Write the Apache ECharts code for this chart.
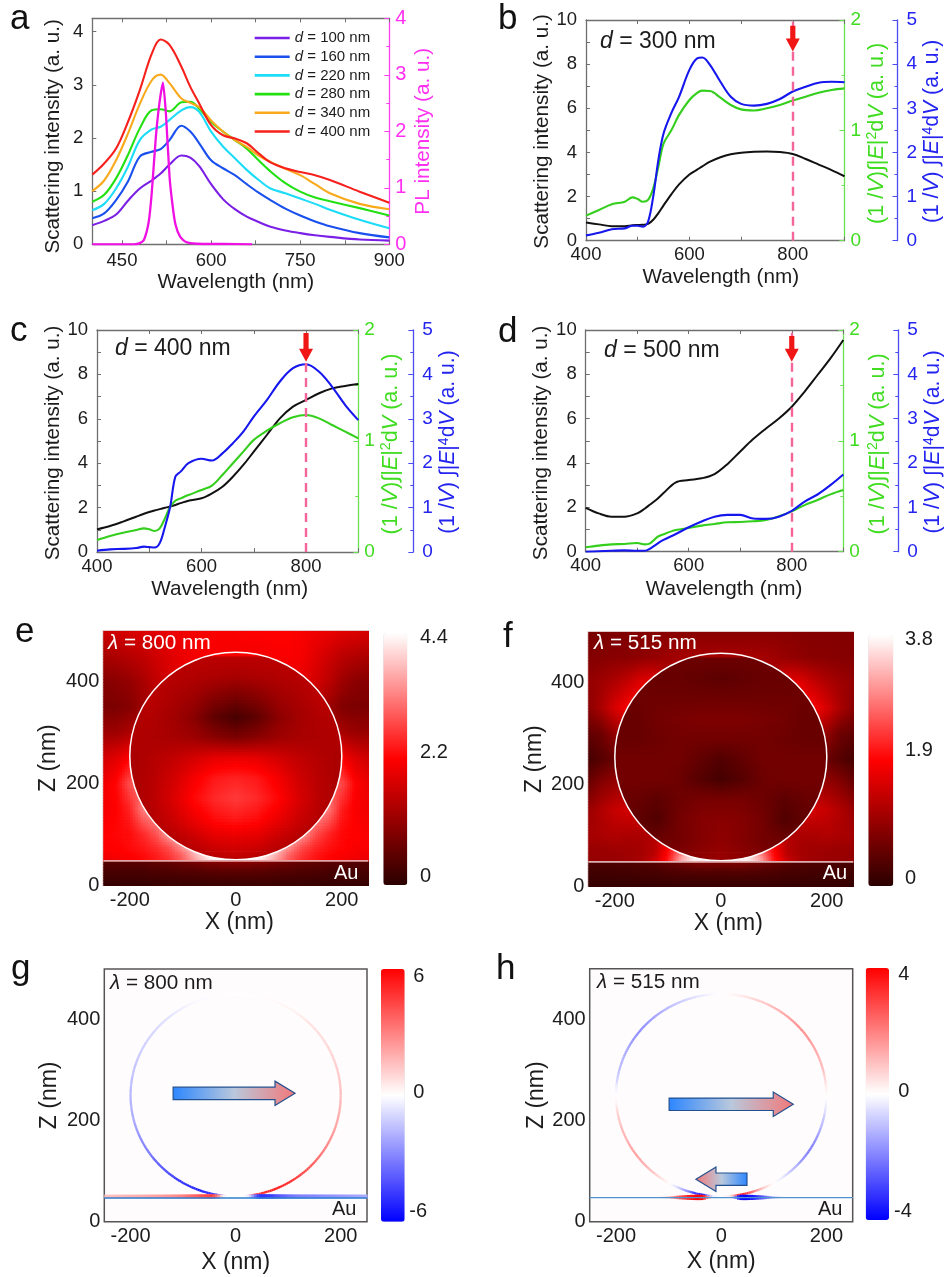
<!DOCTYPE html>
<html><head><meta charset="utf-8">
<script src="https://cdn.jsdelivr.net/npm/echarts@6/dist/echarts.min.js"></script>
<style>html,body{margin:0;padding:0;background:#fff}#c{width:945px;height:1277px}</style>
</head><body><div id="c"></div>
<script>
// ---------- panel a ----------
const waveA = [400,420,440,460,480,500,515,530,550,565,580,600,620,640,660,680,700,725,750,775,800,850,900];
const d100 = [.36,.44,.56,.82,1.05,1.2,1.33,1.5,1.67,1.63,1.47,1.13,.85,.66,.52,.42,.33,.26,.21,.17,.14,.09,.07];
const d160 = [.49,.58,.83,1.18,1.65,1.74,1.79,1.96,2.23,2.12,1.9,1.58,1.43,1.3,1.13,.97,.83,.67,.54,.43,.34,.21,.13];
const d220 = [.64,.76,1.05,1.46,1.96,2.16,2.21,2.34,2.52,2.58,2.49,2.12,1.84,1.62,1.4,1.21,1.05,.96,.86,.76,.65,.46,.3];
const d280 = [.8,.93,1.24,1.68,2.18,2.52,2.54,2.5,2.67,2.68,2.55,2.3,2.12,1.96,1.8,1.58,1.37,1.15,.99,.88,.81,.68,.54];
const d340 = [1.0,1.2,1.58,2.08,2.64,3.08,3.19,3.03,2.74,2.66,2.58,2.33,2.12,1.96,1.83,1.67,1.55,1.42,1.3,1.13,.96,.76,.66];
const d400 = [1.31,1.52,1.8,2.3,2.9,3.58,3.85,3.75,3.34,2.96,2.65,2.24,2.05,1.99,1.9,1.71,1.54,1.43,1.36,1.3,1.21,.99,.78];
const waveAPL = [400,470,480,487,495,500,507,513,519,524,530,535,540,548,558,575,620,669];
const plIntensity = [0,0,.02,.08,.4,.9,1.9,2.5,2.86,2.3,1.2,.7,.35,.13,.04,.01,.005,0];
const legendNames = ['d = 100 nm','d = 160 nm','d = 220 nm','d = 280 nm','d = 340 nm','d = 400 nm'];
// ---------- panel b ----------
const waveB = [400,425,450,475,490,500,510,520,530,540,550,565,580,600,615,625,640,660,680,700,725,750,775,800,825,850,875,900];
const bScatter = [.82,.74,.66,.66,.7,.71,.72,.76,.95,1.25,1.6,2.1,2.55,3.0,3.22,3.37,3.58,3.78,3.92,3.99,4.03,4.04,4.02,3.93,3.7,3.45,3.2,2.92];
const bE2 = [.227,.278,.33,.353,.393,.378,.353,.369,.474,.67,.88,1.0,1.14,1.275,1.34,1.36,1.357,1.296,1.23,1.19,1.18,1.2,1.23,1.27,1.305,1.34,1.365,1.38];
const bE4 = [.12,.18,.26,.28,.34,.34,.32,.43,1.0,1.83,2.43,2.89,3.26,3.87,4.13,4.15,3.98,3.6,3.26,3.1,3.06,3.1,3.21,3.38,3.49,3.58,3.6,3.59];
// ---------- panel c ----------
const waveC = [400,425,450,475,490,500,510,520,530,540,550,560,575,600,620,640,660,680,700,725,750,775,800,825,850,875,900];
const cScatter = [1.02,1.17,1.37,1.59,1.72,1.8,1.87,1.93,1.99,2.05,2.12,2.2,2.31,2.42,2.64,2.94,3.39,3.92,4.52,5.27,6.02,6.55,6.85,7.15,7.37,7.48,7.57];
const cE2 = [.108,.144,.174,.198,.213,.204,.189,.213,.303,.408,.462,.483,.513,.558,.598,.694,.8,.904,1.01,1.093,1.16,1.213,1.234,1.204,1.144,1.084,1.024];
const cE4 = [.03,.06,.07,.09,.12,.11,.1,.2,.57,1.02,1.7,1.81,2.0,2.1,2.06,2.22,2.45,2.71,3.05,3.42,3.84,4.14,4.23,4.06,3.72,3.31,2.97];
// ---------- panel d ----------
const waveD = [400,425,450,475,500,515,525,540,550,575,600,625,650,675,700,725,750,775,800,825,850,875,900];
const dScatter = [1.98,1.73,1.58,1.58,1.73,1.95,2.13,2.4,2.62,3.13,3.23,3.31,3.5,3.95,4.52,5.08,5.56,6.01,6.54,7.22,7.97,8.72,9.55];
const dE2 = [.04,.055,.066,.07,.078,.066,.075,.135,.156,.195,.214,.235,.25,.265,.268,.274,.286,.32,.364,.42,.466,.517,.556];
const dE4 = [0,.01,.02,.03,.02,.02,.07,.19,.26,.4,.55,.68,.79,.83,.83,.75,.74,.79,.92,1.13,1.29,1.5,1.74];
// ---------- tick labels ----------
const ticksAx = [450,600,750,900], ticksAxMinor = [450,525,600,675,750,825,900];
const ticksBx = [400,600,800], ticksBxMinor = [400,500,600,700,800,900];
const ticksXnm = [-200,0,200], ticksZnm = [0,200,400];
// ---------- field maps: |E| outside the sphere (rows top to bottom) ----------
const fieldX = [-250,-225,-200,-175,-150,-125,-100,-75,-50,-25,0,25,50,75,100,125,150,175,200,225,250];
const fieldZ = [500,450,400,350,300,250,200,150,100,75,60,48,47,25,0];
const outerE = [
[1.7,1.75,1.8,1.85,1.9,2.0,2.05,2.1,2.15,2.15,2.15,2.2,2.2,2.2,2.2,2.15,2.05,2.0,1.9,1.85,1.8],
[1.3,1.35,1.45,1.55,1.7,1.85,2.0,2.1,2.15,2.1,2.1,2.1,2.1,2.15,2.15,2.1,1.9,1.7,1.5,1.4,1.35],
[.95,1.0,1.1,1.3,1.55,1.8,1.95,2,2,2,2,2,2,2,2,1.95,1.75,1.5,1.2,1.0,.95],
[.85,.85,.95,1.2,1.4,1.5,1.6,1.6,1.6,1.6,1.6,1.6,1.6,1.6,1.6,1.5,1.4,1.2,.9,.85,.85],
[1.2,1.2,1.35,1.5,1.6,1.6,1.6,1.6,1.6,1.6,1.6,1.6,1.6,1.6,1.6,1.6,1.6,1.5,1.3,1.15,1.15],
[1.75,1.9,2.2,2.4,2.4,2.4,2.4,2.4,2.4,2.4,2.4,2.4,2.4,2.4,2.4,2.4,2.4,2.4,2.15,1.85,1.7],
[2.05,2.25,2.9,3.0,3.0,3.0,3.0,3.0,3.0,3.0,3.0,3.0,3.0,3.0,3.0,3.0,3.0,3.0,2.85,2.2,2.0],
[2.1,2.2,2.5,3.3,3.6,3.6,3.6,3.6,3.6,3.6,3.6,3.6,3.6,3.6,3.6,3.6,3.6,3.25,2.45,2.15,2.05],
[2.2,2.25,2.3,2.55,2.9,3.6,3.9,3.9,3.9,3.9,3.9,3.9,3.9,3.9,3.9,3.55,2.85,2.5,2.25,2.2,2.15],
[2.2,2.2,2.3,2.4,2.6,2.9,3.5,4.1,4.2,4.3,4.3,4.3,4.2,4.1,3.45,2.85,2.55,2.35,2.25,2.15,2.15],
[2.1,2.15,2.2,2.3,2.45,2.7,3.1,3.8,4.3,4.4,4.4,4.4,4.3,3.75,3.05,2.65,2.4,2.25,2.15,2.1,2.05],
[2.0,2.05,2.15,2.25,2.4,2.6,3.0,3.6,4.2,4.4,4.4,4.4,4.15,3.55,2.95,2.55,2.35,2.2,2.1,2.0,2.0],
[.45,.45,.5,.5,.55,.6,.7,.8,.9,.95,1.0,.95,.9,.8,.7,.6,.55,.5,.5,.45,.45],
[.3,.3,.3,.3,.35,.35,.4,.4,.45,.45,.45,.45,.45,.4,.4,.35,.35,.3,.3,.3,.3],
[.12,.12,.12,.12,.13,.14,.14,.15,.15,.15,.15,.15,.15,.15,.14,.14,.13,.12,.12,.12,.12]];
const outerF = [
[.7,.72,.75,.78,.8,.82,.85,.85,.85,.85,.85,.85,.85,.85,.85,.85,.82,.8,.8,.8,.8],
[.8,.82,.85,.85,.9,.95,1.05,1.1,1.1,1.1,1.1,1.1,1.1,1.1,1.05,.95,.9,.85,.85,.82,.8],
[.95,1.05,1.2,1.4,1.65,1.7,1.2,1.1,1.1,1.1,1.1,1.1,1.1,1.1,1.2,1.7,1.65,1.4,1.2,1.05,.95],
[.85,1.15,1.55,1.85,1.85,1.85,1.85,1.85,1.85,1.85,1.85,1.85,1.85,1.85,1.85,1.85,1.85,1.85,1.55,1.15,.85],
[.5,.6,.95,1.0,1.0,1.0,1.0,1.0,1.0,1.0,1.0,1.0,1.0,1.0,1.0,1.0,1.0,1.0,.95,.6,.5],
[.25,.4,.55,.55,.55,.55,.55,.55,.55,.55,.55,.55,.55,.55,.55,.55,.55,.55,.55,.4,.25],
[.6,.85,1.0,1.0,1.0,1.0,1.0,1.0,1.0,1.0,1.0,1.0,1.0,1.0,1.0,1.0,1.0,1.0,1.0,.85,.6],
[1.0,1.2,1.4,1.5,1.5,1.5,1.5,1.5,1.5,1.5,1.5,1.5,1.5,1.5,1.5,1.5,1.5,1.5,1.4,1.2,1.0],
[1.1,1.15,1.2,1.15,1.15,1.2,1.5,1.5,1.5,1.5,1.5,1.5,1.5,1.5,1.5,1.2,1.15,1.15,1.2,1.15,1.1],
[1.0,1.0,1.05,1.05,1.1,1.25,1.9,2.6,2.6,2.6,2.6,2.6,2.6,2.6,1.9,1.25,1.1,1.05,1.05,1.0,1.0],
[.95,1.0,1.0,1.05,1.1,1.3,2.0,3.0,3.7,3.7,3.0,3.7,3.7,3.0,2.0,1.3,1.1,1.05,1.0,1.0,.95],
[.95,1.0,1.0,1.05,1.15,1.5,2.1,3.2,3.7,3.5,2.6,3.5,3.7,3.2,2.1,1.5,1.15,1.05,1.0,1.0,.95],
[.3,.3,.32,.32,.35,.4,.5,.6,.7,.75,.7,.75,.7,.6,.5,.4,.35,.32,.32,.3,.3],
[.2,.2,.22,.22,.25,.25,.3,.3,.32,.32,.32,.32,.32,.3,.3,.25,.25,.22,.22,.2,.2],
[.1,.1,.1,.1,.1,.11,.12,.12,.12,.12,.12,.12,.12,.12,.12,.11,.1,.1,.1,.1,.1]];
// ---------- field maps: |E| inside the sphere ----------
const innerX = [-200,-160,-120,-80,-40,0,40,80,120,160,200];
const innerZ = [450,410,370,330,290,250,210,170,130,90,50];
const innerE = [
[1.5,1.5,1.5,1.5,1.5,1.5,1.5,1.5,1.5,1.5,1.5],
[1.5,1.5,1.45,1.4,1.35,1.3,1.35,1.4,1.45,1.5,1.5],
[1.5,1.5,1.35,1.2,.95,.8,.95,1.2,1.35,1.5,1.5],
[1.4,1.4,1.25,1.0,.55,.3,.55,1.0,1.25,1.4,1.4],
[1.4,1.35,1.3,1.2,1.0,.85,1.0,1.2,1.3,1.35,1.4],
[1.3,1.4,1.55,1.75,1.95,2.0,1.95,1.75,1.55,1.4,1.3],
[1.3,1.45,1.7,2.1,2.4,2.5,2.4,2.1,1.7,1.45,1.3],
[1.3,1.45,1.8,2.25,2.55,2.7,2.55,2.25,1.8,1.45,1.3],
[1.3,1.4,1.65,2.0,2.3,2.4,2.3,2.0,1.65,1.4,1.3],
[1.3,1.3,1.4,1.6,1.85,1.9,1.85,1.6,1.4,1.3,1.3],
[1.3,1.3,1.3,1.3,1.4,1.5,1.4,1.3,1.3,1.3,1.3]];
const innerF = [
[.6,.6,.6,.6,.6,.6,.6,.6,.6,.6,.6],
[.6,.6,.55,.55,.5,.45,.5,.55,.55,.6,.6],
[.6,.6,.6,.6,.6,.6,.6,.6,.6,.6,.6],
[.55,.55,.65,.7,.75,.75,.75,.7,.65,.55,.55],
[.55,.55,.6,.65,.65,.65,.65,.65,.6,.55,.55],
[.65,.65,.65,.65,.5,.35,.5,.65,.65,.65,.65],
[.65,.65,.65,.6,.4,.25,.4,.6,.65,.65,.65],
[.6,.55,.45,.6,.7,.7,.7,.6,.45,.55,.6],
[.5,.5,.35,.65,.8,.85,.8,.65,.35,.5,.5],
[.6,.6,.6,.65,.8,.9,.8,.65,.6,.6,.6],
[.7,.7,.7,.8,.9,1.0,.9,.8,.7,.7,.7]];
// ---------- surface charge on the sphere, one value every 5 degrees ----------
const ringAngle = [0,5,10,15,20,25,30,35,40,45,50,55,60,65,70,75,80,85,90,95,100,105,110,115,120,125,130,135,140,145,150,155,160,165,170,175,180,185,190,195,200,205,210,215,220,225,230,235,240,245,250,255,260,265,270,275,280,285,290,295,300,305,310,315,320,325,330,335,340,345,350,355];
const ringG = [1.5,1.4,1.3,1.2,1.1,1.0,.9,.8,.75,.7,.5,.35,.25,.2,.12,.08,.05,.02,0,-.02,-.05,-.08,-.12,-.2,-.35,-.55,-.7,-.8,-.9,-1,-1.1,-1.2,-1.3,-1.4,-1.5,-1.6,-1.7,-1.8,-1.9,-2.1,-2.3,-2.6,-2.9,-3.2,-3.6,-3.9,-4.3,-4.6,-4.9,-5.1,-5.2,-4.9,-4.1,-.3,0,.3,4.1,4.9,5.2,5.1,4.9,4.6,4.3,3.9,3.6,3.2,2.9,2.6,2.3,2.1,1.9,1.7];
const ringH = [.05,.3,.7,1,1.2,1.3,1.5,1.7,1.8,1.7,1.5,1.3,1.1,.9,.7,.5,.3,.1,0,-.1,-.3,-.5,-.7,-.9,-1.1,-1.3,-1.5,-1.7,-1.8,-1.7,-1.5,-1.4,-1.2,-1,-.8,-.3,0,.2,.7,.9,1.1,1.2,1.4,1.5,1.4,1.2,.9,.5,.1,-.5,-1.5,-3,-3.5,-.3,0,.3,3.5,2.8,1.6,.6,0,-.3,-.8,-1.2,-1.7,-2,-1.9,-1.6,-1.3,-1,-.6,-.2];
// ---------- surface charge on the Au film ----------
const stripX = [-250,-200,-150,-120,-100,-80,-60,-45,-35,-25,-15,0,15,25,35,45,60,80,100,120,150,200,250];
const stripG = [1.5,1.8,2.2,2.6,3,3.6,4.2,4.5,3,.5,0,0,0,-.5,-3,-4.8,-4.8,-4,-3.4,-3,-2.8,-2.4,-2];
const stripH = [0,0,0,.4,1.1,2.6,3.6,4,3.8,1.5,0,0,0,-1.5,-3.8,-4,-3.6,-2.6,-1.1,-.4,-.1,0,0];

const FONT = '"Liberation Sans", Arial, sans-serif';
const GRAY = '#6f6f6f', INK = '#1c1c1c';
const grids=[], xAxes=[], yAxes=[], series=[], visualMaps=[], graphics=[];
const NONE = {show:false};

function richFor(size,color){return {
  i:{fontStyle:'italic',fontSize:size,color,fontFamily:FONT},
  sup:{fontSize:size*0.66,color,fontFamily:FONT,padding:[0,0,size*0.42,0]}};}
function pairs(xs,ys){return xs.map((x,i)=>[x,ys[i]]);}
function addText(text,left,cy,size,color,extra){
  graphics.push(Object.assign({type:'text',left,top:cy-size*0.58,silent:true,z:50,
    style:{text,fill:color,fontSize:size,fontFamily:FONT,rich:richFor(size,color)}},extra||{}));
}
function mapColor(stops,lo,hi){
  const c=stops.map(s=>[parseInt(s.slice(1,3),16),parseInt(s.slice(3,5),16),parseInt(s.slice(5,7),16)]);
  return v=>{
    let t=(v-lo)/(hi-lo); t=Math.max(0,Math.min(1,t))*(c.length-1);
    const i=Math.min(c.length-2,Math.floor(t)), f=t-i;
    return 'rgb('+[0,1,2].map(k=>Math.round(c[i][k]+(c[i+1][k]-c[i][k])*f)).join(',')+')';
  };
}
function frameAxisX(g,mn,mx,labels,ticks,color,margin,name,gap,shift,size){
  const pad = shift>0?[0,0,0,2*shift]:[0,-2*shift,0,0];
  xAxes.push({gridIndex:g,type:'value',position:'bottom',min:mn,max:mx,splitLine:NONE,
    axisLine:{show:true,onZero:false,lineStyle:{color,width:1.3}},
    axisTick:{show:!!ticks,inside:true,length:4,lineStyle:{color},customValues:ticks||labels},
    axisLabel:{color:INK,fontSize:size,fontFamily:FONT,margin,customValues:labels,hideOverlap:false},
    name,nameLocation:'middle',nameGap:gap,
    nameTextStyle:{color:INK,fontSize:name==='X (nm)'?23:20.7,fontFamily:FONT,padding:pad}});
  return xAxes.length-1;
}

// ------- wavelength panels --------
function basePanel(box,xTicks,xMinor,xMargin,xGap,xShift,yMax,yTicks,yGap,yShift,yMinor){
  grids.push({left:box[0],top:box[1],width:box[2]-box[0],height:box[3]-box[1]});
  const g=grids.length-1;
  const xi=frameAxisX(g,400,900,xTicks,xMinor,GRAY,xMargin,'Wavelength (nm)',xGap,xShift,18.5);
  xAxes.push({gridIndex:g,type:'value',position:'top',min:400,max:900,splitLine:NONE,
    axisLine:{show:true,onZero:false,lineStyle:{color:GRAY,width:1.3}},axisLabel:NONE,
    axisTick:{show:true,inside:true,length:4,lineStyle:{color:GRAY},customValues:xMinor}});
  const yi=yAxes.length;
  yAxes.push({gridIndex:g,type:'value',position:'left',min:0,max:yMax,splitLine:NONE,
    axisLine:{show:true,onZero:false,lineStyle:{color:GRAY,width:1.3}},
    axisTick:{show:true,inside:true,length:4,lineStyle:{color:GRAY},customValues:yMinor},
    axisLabel:{color:INK,fontSize:18.5,fontFamily:FONT,margin:9,customValues:yTicks},
    name:'Scattering intensity (a. u.)',nameLocation:'middle',nameGap:yGap,
    nameTextStyle:{color:INK,fontSize:20.7,fontFamily:FONT,padding:yShift>0?[0,2*yShift,0,0]:[0,0,0,-2*yShift]}});
  return {g,xi,yi};
}
function rightAxis(g,mx,major,lineColor,textColor,offset,name,gap,shift,margin,labelSize,nameSize){
  yAxes.push({gridIndex:g,type:'value',position:'right',offset,min:0,max:mx,interval:major,splitLine:NONE,
    axisLine:{show:true,onZero:false,lineStyle:{color:lineColor,width:1.3}},
    axisTick:{show:true,inside:true,length:5,lineStyle:{color:lineColor}},
    minorTick:{show:true,splitNumber:2,length:3,lineStyle:{color:lineColor}},
    axisLabel:{color:textColor,fontSize:labelSize,fontFamily:FONT,margin},
    name,nameLocation:'middle',nameGap:gap,nameRotate:90,
    nameTextStyle:{color:textColor,fontSize:nameSize,fontFamily:FONT,rich:richFor(nameSize,textColor),
      padding:shift>0?[0,2*shift,0,0]:[0,0,0,-2*shift]}});
  return yAxes.length-1;
}
function lineSeries(name,xi,yi,data,color,width,extra){
  series.push(Object.assign({type:'line',name,xAxisIndex:xi,yAxisIndex:yi,data,symbol:'none',smooth:.35,
    lineStyle:{color,width:width||2.1},itemStyle:{color},silent:true,animation:false,z:4},extra||{}));
}
const arrowRender=(params,api)=>{
  const t=api.coord([api.value(0),api.value(1)]), p=api.coord([api.value(0),api.value(2)]);
  const hw=7, sw=2.6, hy=p[1]-13;
  return {type:'polygon',silent:true,shape:{points:[[t[0]-sw,t[1]],[t[0]+sw,t[1]],[t[0]+sw,hy],[t[0]+hw,hy],[p[0],p[1]],[t[0]-hw,hy],[t[0]-sw,hy]]},style:{fill:'#f01616'}};
};
function spectraPanel(box,opt,wave,sc,e2,e4,tailVal,tipVal){
  const p=basePanel(box,ticksBx,ticksBxMinor,5,opt.xGap,opt.xShift,10,[0,2,4,6,8,10],opt.yGap,opt.yShift,[0,1,2,3,4,5,6,7,8,9,10]);
  const gi=rightAxis(p.g,2,1,'#68e050','#3fdc20',0,'(1 /{i|V})\u222B|{i|E}|{sup|2}d{i|V} (a. u.)',opt.gGap,3,6,19,21.6);
  const bi=rightAxis(p.g,5,1,'#4a4cf4','#2424f0',opt.blueOff,'(1 /{i|V}) \u222B|{i|E}|{sup|4}d{i|V} (a. u.)',opt.bGap,1,9,19,21.2);
  lineSeries('Scattering',p.xi,p.yi,pairs(wave,sc),'#111111',2,{
    markLine:{silent:true,symbol:'none',animation:false,label:NONE,data:[{xAxis:800}],
      lineStyle:{color:'#f4669a',type:[9,6],width:2.4}}});
  lineSeries('E2',p.xi,gi,pairs(wave,e2),'#33cf1c');
  lineSeries('E4',p.xi,bi,pairs(wave,e4),'#1616ee');
  series.push({type:'custom',name:'arrow',xAxisIndex:p.xi,yAxisIndex:p.yi,data:[[800,tailVal,tipVal]],renderItem:arrowRender,silent:true,animation:false,z:6,encode:{x:0,y:1}});
}

// panel a
(function(){
  const p=basePanel([92.3,18.3,389.3,244.3],ticksAx,ticksAxMinor,7.5,27,-5,4.25,[0,1,2,3,4],29,5,[0,1,2,3,4]);
  const pi=rightAxis(p.g,4,1,'#ff40f0','#ff30f0',0,'PL intensity (a. u.)',23,0,6,20,20.7);
  const colors=['#7a1fe6','#1a50ee','#1cdcf8','#22e012','#f8aa1c','#f6201c'];
  [d100,d160,d220,d280,d340,d400].forEach((v,k)=>lineSeries(legendNames[k],p.xi,p.yi,pairs(waveA,v),colors[k],2.1));
  lineSeries('PL',p.xi,pi,pairs(waveAPL,plIntensity),'#f010e4',2.3,{smooth:.2});
})();
spectraPanel([586,20,844.5,240.7],{xGap:26,xShift:5.5,yGap:33,yShift:1,gGap:21,bGap:23,blueOff:53},waveB,bScatter,bE2,bE4,9.74,8.57);
spectraPanel([97,330,358.3,552],{xGap:27,xShift:2,yGap:33,yShift:2,gGap:21,bGap:21,blueOff:55},waveC,cScatter,cE2,cE4,9.86,8.57);
spectraPanel([585.7,330,843.3,551.7],{xGap:27,xShift:9.5,yGap:29,yShift:2,gGap:23,bGap:22,blueOff:55},waveD,dScatter,dE2,dE4,9.73,8.57);

// ------- map panels --------
function spacePanel(box,border,bg,xGap,xShift,yGap){
  grids.push({left:box[0],top:box[1],width:box[2]-box[0],height:box[3]-box[1],show:true,borderColor:border,borderWidth:1.5,backgroundColor:bg});
  const g=grids.length-1;
  const xi=xAxes.length;
  xAxes.push({gridIndex:g,type:'value',min:-250,max:250,splitLine:NONE,axisLine:NONE,axisTick:NONE,
    axisLabel:{color:INK,fontSize:20,fontFamily:FONT,margin:5,customValues:ticksXnm},
    name:'X (nm)',nameLocation:'middle',nameGap:xGap,
    nameTextStyle:{color:INK,fontSize:23,fontFamily:FONT,padding:xShift>0?[0,0,0,2*xShift]:[0,0,0,0]}});
  const yi=yAxes.length;
  yAxes.push({gridIndex:g,type:'value',min:0,max:500,splitLine:NONE,axisLine:NONE,axisTick:NONE,
    axisLabel:{color:INK,fontSize:20,fontFamily:FONT,margin:4,customValues:ticksZnm},
    name:'Z (nm)',nameLocation:'middle',nameGap:yGap,
    nameTextStyle:{color:INK,fontSize:23,fontFamily:FONT}});
  return {g,xi,yi};
}
function cellsFrom(xs,zs,rows){
  const out=[];
  for(let i=0;i<zs.length-1;i++)for(let j=0;j<xs.length-1;j++)
    out.push([xs[j],zs[i+1],xs[j+1],zs[i],rows[i][j],rows[i][j+1],rows[i+1][j],rows[i+1][j+1]]);
  return out;
}
function fieldSeries(p,cells,cmap,ellipse){
  series.push({type:'custom',name:'field',xAxisIndex:p.xi,yAxisIndex:p.yi,data:cells,silent:true,animation:false,z:2,progressive:0,
    encode:{x:[0,2],y:[1,3]},
    renderItem:(params,api)=>{
      const a=api.coord([api.value(0),api.value(3)]), b=api.coord([api.value(2),api.value(1)]);
      const tl=api.value(4),tr=api.value(5),bl=api.value(6),br=api.value(7);
      const w=b[0]-a[0],h=b[1]-a[1],nx=Math.max(1,Math.ceil(w/3)),ny=Math.max(1,Math.ceil(h/3));
      const children=[];
      for(let m=0;m<ny;m++)for(let n=0;n<nx;n++){
        const u=(n+.5)/nx,v=(m+.5)/ny;
        const val=(tl*(1-u)+tr*u)*(1-v)+(bl*(1-u)+br*u)*v;
        children.push({type:'rect',shape:{x:a[0]+w*n/nx,y:a[1]+h*m/ny,width:w/nx+.7,height:h/ny+.7},style:{fill:cmap(val)}});
      }
      const el={type:'group',children};
      if(ellipse){
        const c=api.coord([ellipse[0],ellipse[1]]),s=api.size([ellipse[2],ellipse[3]]);
        el.clipPath={type:'ellipse',shape:{cx:c[0],cy:c[1],rx:s[0],ry:s[1]}};
      }
      return el;
    }});
  return series.length-1;
}
function sphereOutline(p,sphere){
  series.push({type:'custom',name:'sphere',xAxisIndex:p.xi,yAxisIndex:p.yi,data:[sphere],silent:true,animation:false,z:5,encode:{x:0,y:1},
    renderItem:(params,api)=>{
      const c=api.coord([api.value(0),api.value(1)]),s=api.size([api.value(2),api.value(3)]);
      return {type:'ellipse',shape:{cx:c[0],cy:c[1],rx:s[0],ry:s[1]},style:{fill:'none',stroke:'#fff',lineWidth:1.5}};
    }});
}
function baseLine(p,z,color,width){
  series.push({type:'line',name:'film',xAxisIndex:p.xi,yAxisIndex:p.yi,data:[[-250,z],[250,z]],symbol:'none',silent:true,animation:false,z:5,lineStyle:{color,width}});
}
function colorBar(idx,min,max,colors,left,top,w,h,labels){
  visualMaps.push({type:'continuous',seriesIndex:idx,min,max,inRange:{color:colors},calculable:false,hoverLink:false,
    left,top,itemWidth:w,itemHeight:h,padding:0,text:null,showLabel:false,orient:'vertical',
    textStyle:{color:'transparent',fontSize:1}});
  labels.forEach(l=>addText(String(l[0]),l[1],l[2],20,INK));
}
const sphere=[0,254,200,204];
const hotStops=['#2a0000','#ff0000','#ffffff'], divStops=['#0000ff','#ffffff','#ff0000'];

// panel e
(function(){
  const p=spacePanel([103.3,631,368.3,885.3],'#d8b8b8','#c00000',26,3.5,43);
  const cm=mapColor(hotStops,0,4.4);
  const s=fieldSeries(p,cellsFrom(fieldX,fieldZ,outerE),cm);
  fieldSeries(p,cellsFrom(innerX,innerZ,innerE),cm,sphere);
  sphereOutline(p,sphere); baseLine(p,48,'#e2a6a6',1.6);
  colorBar(s,0,4.4,hotStops,383.3,633,24,252,[['4.4',420,639],['2.2',420,754],['0',420,878]]);
  addText('{i|\u03BB} = 800 nm',108,645,20.7,'#fff');
  addText('Au',334,875,20,'#fff');
})();
// panel f
(function(){
  const p=spacePanel([588.3,632,853.3,886.3],'#d8b8b8','#700000',25.5,7.5,42);
  const cm=mapColor(hotStops,0,3.8);
  const s=fieldSeries(p,cellsFrom(fieldX,fieldZ,outerF),cm);
  fieldSeries(p,cellsFrom(innerX,innerZ,innerF),cm,sphere);
  sphereOutline(p,sphere); baseLine(p,48,'#dcb0b0',1.6);
  colorBar(s,0,3.8,hotStops,868.3,635,25,251,[['3.8',905,641],['1.9',905,752],['0',905,880]]);
  addText('{i|\u03BB} = 515 nm',594,645,20.7,'#fff');
  addText('Au',822.7,875,20,'#fff');
})();
// ring, strip and dipole arrows
function ringSeries(p,vals,vmax,cm){
  const cells=ringAngle.map((a,i)=>[a,a+5,vals[i],vals[(i+1)%vals.length]]);
  series.push({type:'custom',name:'charge',xAxisIndex:p.xi,yAxisIndex:p.yi,data:cells,silent:true,animation:false,z:3,progressive:0,
    encode:{x:0,y:1},
    renderItem:(params,api)=>{
      const a0=api.value(0),a1=api.value(1),v0=api.value(2),v1=api.value(3),children=[];
      const N=4;
      for(let k=0;k<N;k++){
        const t0=a0+(a1-a0)*k/N,t1=a0+(a1-a0)*(k+1.05)/N,pts=[];
        [t0,t1].forEach(t=>{const r=t*Math.PI/180;pts.push(api.coord([200*Math.cos(r),250+200*Math.sin(r)]));});
        const v=v0+(v1-v0)*(k+.5)/N;
        children.push({type:'line',shape:{x1:pts[0][0],y1:pts[0][1],x2:pts[1][0],y2:pts[1][1]},style:{stroke:cm(v),lineWidth:2.3,fill:'none'}});
      }
      return {type:'group',children};
    }});
}
function stripSeries(p,vals,vmax,cm,z,base,gain){
  const cells=stripX.slice(0,-1).map((x,i)=>[x,stripX[i+1],vals[i],vals[i+1]]);
  series.push({type:'custom',name:'filmCharge',xAxisIndex:p.xi,yAxisIndex:p.yi,data:cells,silent:true,animation:false,z:3,progressive:0,
    encode:{x:0,y:1},
    renderItem:(params,api)=>{
      const x0=api.value(0),x1=api.value(1),v0=api.value(2),v1=api.value(3),children=[];
      const a=api.coord([x0,z]),b=api.coord([x1,z]),N=Math.max(1,Math.ceil((b[0]-a[0])/3));
      for(let k=0;k<N;k++){
        const v=v0+(v1-v0)*(k+.5)/N,h=base+gain*Math.abs(v)/vmax;
        children.push({type:'rect',shape:{x:a[0]+(b[0]-a[0])*k/N,y:a[1]-h/2,width:(b[0]-a[0])/N+.6,height:h},style:{fill:cm(v)}});
      }
      return {type:'group',children};
    }});
}
function dipoleSeries(p,list){
  series.push({type:'custom',name:'dipole',xAxisIndex:p.xi,yAxisIndex:p.yi,data:list,silent:true,animation:false,z:7,encode:{x:[0,1],y:2},
    renderItem:(params,api)=>{
      const t=api.coord([api.value(0),api.value(2)]),h=api.coord([api.value(1),api.value(2)]);
      const dir=h[0]>t[0]?1:-1,hl=dir*20,sh=6.2,hh=12.2,nx=h[0]-hl;
      return {type:'polygon',shape:{points:[[t[0],t[1]-sh],[nx,t[1]-sh],[nx,t[1]-hh],[h[0],t[1]],[nx,t[1]+hh],[nx,t[1]+sh],[t[0],t[1]+sh]]},
        style:{stroke:'#22508f',lineWidth:1.2,fill:new echarts.graphic.LinearGradient(dir>0?0:1,0,dir>0?1:0,0,[
          {offset:0,color:'#2c86ff'},{offset:.5,color:'#b9c8dc'},{offset:1,color:'#f27878'}])}};
    }});
}
// panel g
(function(){
  const p=spacePanel([104.3,969,367,1221.7],'#555555','#fffcfd',29.5,0,43);
  const cm=mapColor(divStops,-6,6);
  ringSeries(p,ringG,6,cm);
  stripSeries(p,stripG,6,cm,50,3,2);
  baseLine(p,47,'#2d7fd0',1.5);
  dipoleSeries(p,[[-119,113,254]]);
  colorBar(series.length-4,-6,6,divStops,381,969,23.7,252.7,[['6',413.3,978],['0',413.3,1094.5],['-6',409.3,1213.3]]);
  addText('{i|\u03BB} = 800 nm',110,985,20.7,INK);
  addText('Au',332,1211,20,INK);
})();
// panel h
(function(){
  const p=spacePanel([589.7,968.7,852.7,1221.7],'#555555','#fffcfd',28.5,0,42);
  const cm=mapColor(divStops,-4,4);
  ringSeries(p,ringH,4,cm);
  stripSeries(p,stripH,4,cm,48,.5,5);
  baseLine(p,47.5,'#4f94d0',1.1);
  dipoleSeries(p,[[-99,137,232],[49,-48,84]]);
  colorBar(series.length-4,-4,4,divStops,865.7,968,23.3,252,[['4',898.3,976],['0',898.3,1092.7],['-4',894,1212.7]]);
  addText('{i|\u03BB} = 515 nm',597,984,20.7,INK);
  addText('Au',818,1211,20,INK);
})();

// texts inside panels
addText('{i|d} = 300 nm',600,43,23,INK);
addText('{i|d} = 400 nm',115,350,23,INK);
addText('{i|d} = 500 nm',604,352,23,INK);
// panel letters
[['a',10,22],['b',498,22],['c',10,334],['d',498,335],['e',15,635],['f',503,640],['g',11,972],['h',496,972]]
  .forEach(l=>addText(l[0],l[1],l[2],35,'#111'));

const chart=echarts.init(document.getElementById('c'),null,{renderer:'canvas'});
chart.setOption({
  animation:false,backgroundColor:'#fff',textStyle:{fontFamily:FONT},
  grid:grids,xAxis:xAxes,yAxis:yAxes,series,visualMap:visualMaps,graphic:graphics,
  legend:{show:true,data:legendNames,orient:'vertical',left:254.7,top:30.5,padding:0,itemGap:3.7,itemWidth:35,itemHeight:2.6,icon:'rect',selectedMode:false,
    formatter:n=>'{i|d}'+n.slice(1),
    textStyle:{color:INK,fontSize:15,fontFamily:FONT,lineHeight:15,rich:{i:{fontStyle:'italic',fontSize:15,color:INK,fontFamily:FONT}}}}
});
</script></body></html>
